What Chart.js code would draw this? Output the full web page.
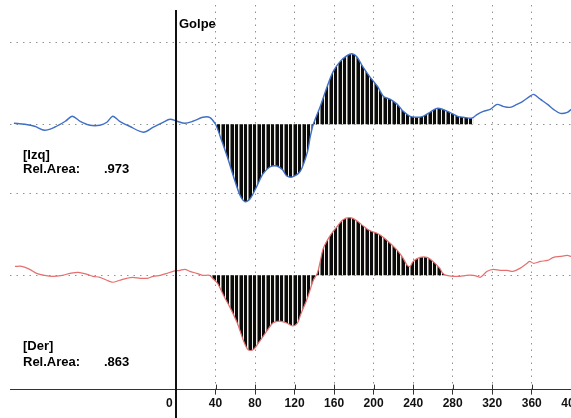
<!DOCTYPE html>
<html>
<head>
<meta charset="utf-8">
<script src="https://cdn.jsdelivr.net/npm/chart.js@4/dist/chart.umd.min.js"></script>
<style>
  html, body { margin: 0; padding: 0; background: #fff; overflow: hidden; }
  #wrap { width: 591px; height: 418px; }
</style>
</head>
<body>
<div id="wrap"><canvas id="c" width="591" height="418"></canvas></div>
<script>
// Time in ms relative to the impact ("Golpe"); amplitude relative to each channel's baseline.
const izqTime = [-164,-153,-143,-133,-123,-112,-105,-97,-87,-77,-70,-64,-57,-47,-33,-23,-13,-6,1,9,17,27,34,40,45,52,58,65,70,75,82,88,95,102,108,112,118,126,133,136,139,146,153,159,166,173,178,183,189,196,204,210,217,224,230,237,244,250,257,264,270,277,285,291,298,301,305,311,318,325,331,338,345,351,358,362,369,376,382,389,396,400];
const izqAmp  = [1,0,-2,-6,-3,3,8,3,-1,-1,2,8,3,-2,-8,-3,2,5,3,1,3,7,7,0,-13,-33,-52,-72,-78,-75,-62,-50,-43,-42,-46,-52,-53,-47,-28,-12,0,18,38,53,63,69,71,68,58,48,38,28,25,20,13,8,7,8,12,16,15,12,8,7,6,7,10,13,15,20,18,17,20,23,28,30,25,20,15,11,12,15];

const derTime = [-163,-156,-148,-141,-133,-125,-115,-107,-99,-90,-84,-77,-70,-64,-57,-50,-44,-36,-29,-23,-16,-9,-3,4,9,14,21,27,34,37,42,48,55,62,68,73,78,85,92,98,105,112,118,123,126,133,139,143,146,149,156,163,169,176,183,189,196,204,210,217,224,230,234,237,240,247,254,260,267,270,274,280,287,294,301,305,308,315,321,328,335,341,348,355,358,362,369,376,382,389,396,400];
const derAmp  = [9,9,6,2,0,-1,0,2,3,1,-1,-2,-5,-7,-5,-3,-2,-3,-3,-1,0,2,4,5,6,4,2,0,0,-3,-8,-20,-33,-48,-65,-75,-75,-66,-56,-48,-46,-48,-51,-48,-40,-23,-5,2,14,27,40,49,56,58,55,50,45,42,38,32,25,17,10,9,14,18,18,14,7,2,0,-1,-1,0,0,-1,-2,4,6,5,5,4,7,12,14,12,14,15,18,19,20,19];

// Analysis windows (ms) whose area is shaded
const izqWindow = [40, 301];
const derWindow = [34, 274];

// Axis ticks and amplitude reference levels
const xTicks = [0, 40, 80, 120, 160, 200, 240, 280, 320, 360, 400];
const izqLevels = [82, 0, -70];
const derLevels = [0];

// Channel annotations
const channelNames = ['[Izq]', '[Der]'];
const relAreas = ['.973', '.863'];
const golpeTime = 0;
const golpeLabel = 'Golpe';

const FONT = '"Liberation Sans", Arial, sans-serif';

function toPoints(times, amps) {
  return times.map((t, i) => ({ x: t, y: amps[i] }));
}
function inWindow(points, w) {
  return points.filter(p => p.x >= w[0] && p.x <= w[1]);
}

const canvas = document.getElementById('c');
const ctx = canvas.getContext('2d');

// Vertical hatch: black fill with thin light stripes
function hatchPattern() {
  const c = document.createElement('canvas');
  c.width = 9; c.height = 4;
  const g = c.getContext('2d');
  g.fillStyle = '#0b0b0b';
  g.fillRect(0, 0, 9, 4);
  g.fillStyle = '#f2f2ea';
  g.fillRect(0, 0, 1, 4);
  g.fillRect(4, 0, 1.5, 4);
  return ctx.createPattern(c, 'repeat');
}
const hatch = hatchPattern();

const izqPts = toPoints(izqTime, izqAmp);
const derPts = toPoints(derTime, derAmp);

const overlay = {
  id: 'overlay',
  afterDraw(chart) {
    const { ctx, chartArea, scales } = chart;
    const x = scales.x;
    const gx = Math.round(x.getPixelForValue(golpeTime));
    ctx.save();
    // impact marker
    ctx.strokeStyle = '#111';
    ctx.lineWidth = 2;
    ctx.beginPath();
    ctx.moveTo(gx, chartArea.top + 5);
    ctx.lineTo(gx, chart.height);
    ctx.stroke();
    // tick marks reaching up across the axis line
    ctx.lineWidth = 1;
    ctx.strokeStyle = '#333';
    xTicks.forEach(v => {
      if (v === golpeTime) return;
      const px = Math.round(x.getPixelForValue(v)) + 0.5;
      ctx.beginPath();
      ctx.moveTo(px, chartArea.bottom - 5);
      ctx.lineTo(px, chartArea.bottom);
      ctx.stroke();
    });
    // texts
    ctx.fillStyle = '#000';
    ctx.font = 'bold 13px ' + FONT;
    ctx.textBaseline = 'alphabetic';
    ctx.textAlign = 'left';
    ctx.fillText(golpeLabel, gx + 3, 28);
    const rows = [[159, 173], [350, 366]];
    channelNames.forEach((name, i) => {
      ctx.fillText(name, chartArea.left + 13, rows[i][0]);
      ctx.fillText('Rel.Area:', chartArea.left + 13, rows[i][1]);
      ctx.fillText(relAreas[i], 104, rows[i][1]);
    });
    ctx.restore();
  }
};

const dotted = [1.5, 5];

new Chart(ctx, {
  type: 'line',
  data: {
    datasets: [
      {
        label: 'Izq',
        data: izqPts,
        yAxisID: 'yIzq',
        borderColor: '#3f6fc6',
        borderWidth: 1.4,
        pointRadius: 0,
        tension: 0.3,
        fill: false,
        order: 0
      },
      {
        label: 'Der',
        data: derPts,
        yAxisID: 'yDer',
        borderColor: '#e66f6f',
        borderWidth: 1.2,
        pointRadius: 0,
        tension: 0.3,
        fill: false,
        order: 0
      },
      {
        label: 'Izq area',
        data: inWindow(izqPts, izqWindow),
        yAxisID: 'yIzq',
        borderWidth: 0,
        borderColor: 'rgba(0,0,0,0)',
        backgroundColor: hatch,
        pointRadius: 0,
        tension: 0.3,
        fill: { value: 0 },
        order: 1
      },
      {
        label: 'Der area',
        data: inWindow(derPts, derWindow),
        yAxisID: 'yDer',
        borderWidth: 0,
        borderColor: 'rgba(0,0,0,0)',
        backgroundColor: hatch,
        pointRadius: 0,
        tension: 0.3,
        fill: { value: 0 },
        order: 1
      }
    ]
  },
  options: {
    responsive: false,
    animation: false,
    events: [],
    layout: { padding: { left: 10, right: 0, top: 5, bottom: 5 } },
    plugins: { legend: { display: false }, tooltip: { enabled: false } },
    scales: {
      x: {
        type: 'linear',
        min: -168,
        max: 420,
        afterBuildTicks: s => { s.ticks = xTicks.map(v => ({ value: v })); },
        ticks: {
          autoSkip: false,
          maxRotation: 0,
          padding: 2,
          color: '#111',
          font: { family: FONT, size: 12, weight: 'bold' },
          callback: v => (v === golpeTime ? '0    ' : String(v))
        },
        grid: {
          color: c => (c.tick && c.tick.value === golpeTime ? 'rgba(0,0,0,0)' : 'rgba(110,110,110,0.75)'),
          tickColor: '#333',
          tickLength: 5,
          tickBorderDash: [],
          lineWidth: 1
        },
        border: { display: true, color: '#333', width: 1, dash: dotted }
      },
      yIzq: {
        type: 'linear',
        position: 'left',
        min: -267,
        max: 120,
        afterBuildTicks: s => { s.ticks = izqLevels.map(v => ({ value: v })); },
        ticks: { display: false },
        grid: { color: 'rgba(110,110,110,0.75)', drawTicks: false, lineWidth: 1 },
        border: { display: false, dash: dotted }
      },
      yDer: {
        type: 'linear',
        position: 'left',
        min: -115,
        max: 272,
        afterBuildTicks: s => { s.ticks = derLevels.map(v => ({ value: v })); },
        ticks: { display: false },
        grid: { color: 'rgba(110,110,110,0.75)', drawTicks: false, lineWidth: 1 },
        border: { display: false, dash: dotted }
      }
    }
  },
  plugins: [overlay]
});
</script>
</body>
</html>
